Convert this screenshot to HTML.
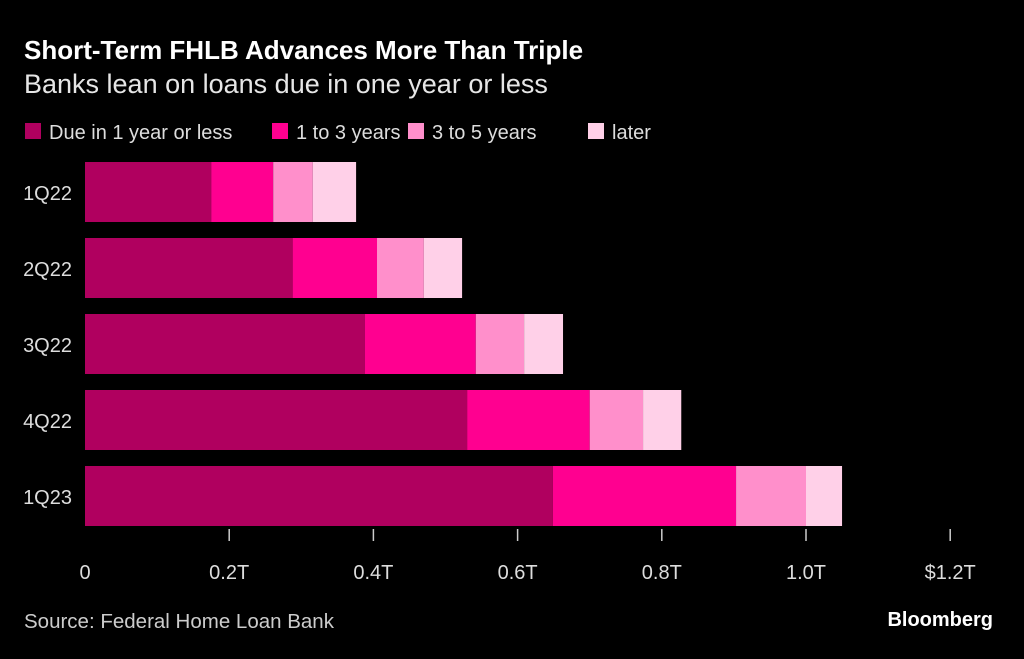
<!DOCTYPE html>
<html><head><meta charset="utf-8"><style>
body{margin:0;background:#000;width:1024px;height:654px;overflow:hidden;font-family:"Liberation Sans",sans-serif;color:#ddd}
</style></head><body>
<svg id="chart" width="1024" height="654" xmlns="http://www.w3.org/2000/svg">
<text x="24" y="59" fill="#fff" font-size="26" font-weight="bold">Short-Term FHLB Advances More Than Triple</text>
<text x="24" y="93" fill="#e6e6e6" font-size="27">Banks lean on loans due in one year or less</text>
<g id="legend"></g>
<g id="bars"></g>
<g id="axis"></g>
<text x="24" y="628" fill="#ccc" font-size="20.5">Source: Federal Home Loan Bank</text>
<text x="993" y="626" fill="#fff" font-size="20" font-weight="bold" text-anchor="end">Bloomberg</text>
</svg>
<script>
const categories=["1Q22","2Q22","3Q22","4Q22","1Q23"];
const seriesNames=["Due in 1 year or less","1 to 3 years","3 to 5 years","later"];
const due1=[0.175,0.288,0.388,0.530,0.649];
const y1to3=[0.086,0.117,0.154,0.170,0.254];
const y3to5=[0.055,0.065,0.067,0.074,0.097];
const later=[0.060,0.053,0.054,0.053,0.050];
const tickValues=[0,0.2,0.4,0.6,0.8,1.0,1.2];
const tickLabels=["0","0.2T","0.4T","0.6T","0.8T","1.0T","$1.2T"];
const colors=["#b0005f","#ff0090","#ff8fcb","#ffd0e8"];
const NS="http://www.w3.org/2000/svg";
const x=v=>85+v*721;
const yb=i=>162+i*76;
function mk(t,a,p){const e=document.createElementNS(NS,t);for(const k in a)e.setAttribute(k,a[k]);p.appendChild(e);return e;}
const series=[due1,y1to3,y3to5,later];
const bars=document.getElementById('bars');
categories.forEach((c,i)=>{
  let acc=0;
  series.forEach((s,j)=>{
    const r=mk('rect',{x:x(acc),y:yb(i),width:x(acc+s[i])-x(acc),height:60,fill:colors[j]},bars);
    
    
    acc+=s[i];
  });
  const t=mk('text',{x:72,y:yb(i)+38,fill:'#ddd','font-size':20,'text-anchor':'end'},bars);
  t.textContent=c;
  
  
});
const axis=document.getElementById('axis');
tickValues.forEach((v,i)=>{
  if(i>0){const l=mk('line',{x1:x(v),x2:x(v),y1:529,y2:541,stroke:'#ccc','stroke-width':1.5},axis);
  
  }
  const t=mk('text',{x:x(v),y:579,fill:'#ddd','font-size':20,'text-anchor':'middle'},axis);
  t.textContent=tickLabels[i];
  
  
});
const lg=document.getElementById('legend');
const lx=[25,272,408,588];
seriesNames.forEach((n,j)=>{
  const r=mk('rect',{x:lx[j],y:123,width:16,height:16,fill:colors[j]},lg);
  
  
  const t=mk('text',{x:lx[j]+24,y:139,fill:'#ddd','font-size':20},lg);
  t.textContent=n;
  
  
});
</script>
</body></html>
